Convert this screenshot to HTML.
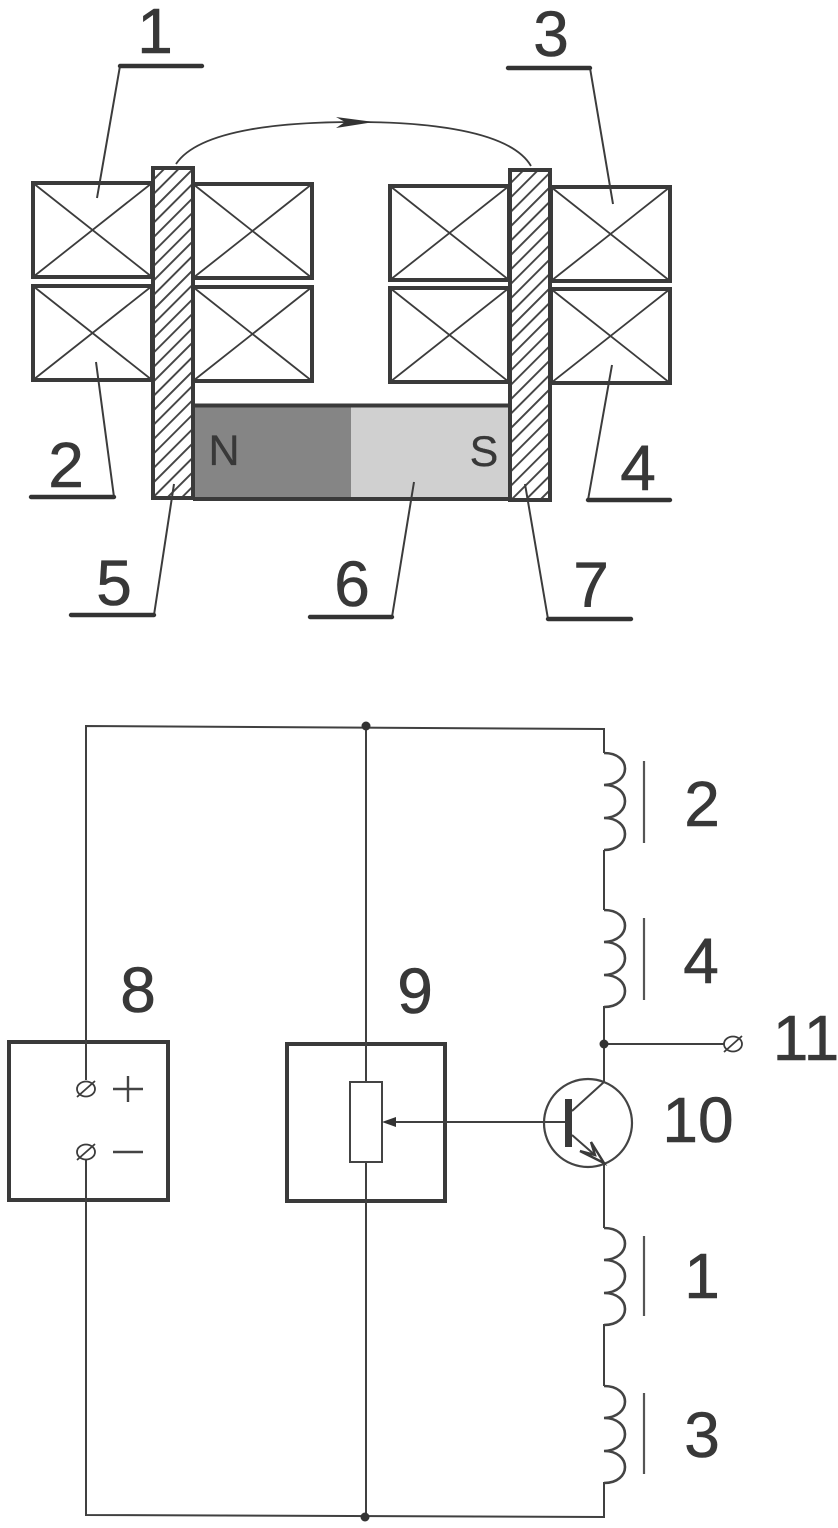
<!DOCTYPE html>
<html><head><meta charset="utf-8"><style>
html,body{margin:0;padding:0;background:#fff}
svg{display:block}
text{font-family:"Liberation Sans",sans-serif;fill:#383838;stroke:#383838;stroke-width:.6;font-size:64px;text-anchor:middle}
.t{fill:none;stroke:#3c3c3c;stroke-width:1.8}
.k{fill:#fff;stroke:#3a3a3a;stroke-width:4}
.u{stroke:#333;stroke-width:4.4;stroke-linecap:round}
.w{fill:none;stroke:#404040;stroke-width:2}
</style></head><body>
<svg width="838" height="1528" viewBox="0 0 838 1528" xmlns="http://www.w3.org/2000/svg">
<defs>
<pattern id="h" width="10.2" height="10.2" patternUnits="userSpaceOnUse" patternTransform="rotate(45)">
<rect width="10.2" height="10.2" fill="#fff"/><rect width="1.9" height="10.2" fill="#444"/>
</pattern>
<g id="c"><path d="M0,0 C28,0 28,31 0,32 C28,32 28,64 0,65 C28,65 28,97 0,97" fill="none" stroke="#444" stroke-width="2.600"/></g>
<g id="tm"><ellipse cx="0" cy="0" rx="9" ry="7.500" class="t"/><line x1="-9" y1="8" x2="9" y2="-8" class="t"/></g>
</defs>
<rect width="838" height="1528" fill="#fff"/>

<!-- coils windings top -->
<g class="k">
<rect x="33" y="183" width="119" height="94"/><rect x="33" y="286" width="119" height="94"/>
<rect x="193" y="184" width="119" height="94"/><rect x="193" y="287" width="119" height="94"/>
<rect x="390" y="186" width="119" height="94"/><rect x="390" y="288" width="119" height="94"/>
<rect x="551" y="187" width="119" height="94"/><rect x="551" y="289" width="119" height="94"/>
</g>
<g class="t">
<path d="M33,183L152,277M152,183L33,277M33,286L152,380M152,286L33,380"/>
<path d="M193,184L312,278M312,184L193,278M193,287L312,381M312,287L193,381"/>
<path d="M390,186L509,280M509,186L390,280M390,288L509,382M509,288L390,382"/>
<path d="M551,187L670,281M670,187L551,281M551,289L670,383M670,289L551,383"/>
</g>
<!-- magnet -->
<rect x="193" y="405" width="158" height="94" fill="#858585"/>
<rect x="351" y="405" width="159" height="94" fill="#d0d0d0"/>
<path d="M193,405.500L510,405.500M193,499L510,499" stroke="#3a3a3a" stroke-width="4"/>
<!-- cores -->
<rect x="153" y="168" width="40" height="330" fill="url(#h)" stroke="#3a3a3a" stroke-width="4"/>
<rect x="510" y="170" width="40" height="330" fill="url(#h)" stroke="#3a3a3a" stroke-width="4"/>
<text x="224" y="465" style="font-size:43px;stroke-width:.3">N</text>
<text x="484" y="466" style="font-size:43px;stroke-width:.3">S</text>
<!-- flux arc -->
<path class="t" d="M176,164 C200,128 290,122 355,122 C425,122 510,130 531,166"/>
<path d="M336,117 L374,122 L336,128 L345,122 Z" fill="#333"/>
<!-- leaders -->
<g class="t" style="stroke-width:2">
<path d="M120,66L97,198M590,68L613,204M114,497L96,362M588,500L612,365M154,615L174,484M392,617L414,482M548,619L525,484"/>
</g>
<g class="u">
<path d="M120,66H202M508,68H590M31,497H114M588,500H670M71,615H154M310,617H392M548,619H631"/>
</g>
<text x="155" y="53">1</text><text x="551" y="56">3</text>
<text x="66" y="487">2</text><text x="638" y="490">4</text>
<text x="114" y="605">5</text><text x="352" y="606">6</text><text x="591" y="607">7</text>

<!-- circuit boxes -->
<rect x="9" y="1042" width="159" height="158" fill="none" stroke="#3a3a3a" stroke-width="4"/>
<rect x="287" y="1044" width="158" height="157" fill="none" stroke="#3a3a3a" stroke-width="4"/>
<!-- wires -->
<g class="w">
<path d="M86,1080V726L604,729V753M604,850V910M604,1006V1082M604,1163V1228M604,1324V1386M604,1482V1517L86,1515V1160"/>
<path d="M366,726V1082M366,1162V1517"/>
<path d="M604,1044H724"/>
<path d="M395,1122H565"/>
</g>
<rect x="350" y="1082" width="32" height="80" fill="#fff" stroke="#444" stroke-width="2"/>
<path d="M382,1122L396,1117V1127Z" fill="#333"/>
<circle cx="366" cy="726" r="4.500" fill="#333"/>
<circle cx="365" cy="1517" r="4.500" fill="#333"/>
<circle cx="604" cy="1044" r="4.500" fill="#333"/>
<!-- terminals -->
<use href="#tm" x="86" y="1089"/><use href="#tm" x="86" y="1152"/><use href="#tm" x="733" y="1044"/>
<path d="M113,1089H143M128,1076V1102M113,1152H143" stroke="#444" stroke-width="2.400" fill="none"/>
<!-- transistor -->
<circle cx="588" cy="1123" r="44" fill="none" stroke="#444" stroke-width="2.200"/>
<rect x="565" y="1099" width="7" height="48" fill="#3a3a3a"/>
<path class="w" d="M572,1111L604,1082M572,1135L604,1163"/>
<path d="M580,1151L604,1163L591,1142L595,1155Z" fill="#fff" stroke="#3a3a3a" stroke-width="2.400"/>
<!-- inductors -->
<use href="#c" x="604" y="753"/><use href="#c" x="604" y="910"/><use href="#c" x="604" y="1228"/><use href="#c" x="604" y="1386"/>
<path d="M644,761V843M644,918V1000M644,1236V1316M644,1393V1474" stroke="#555" stroke-width="2.200" fill="none"/>
<!-- labels -->
<text x="138" y="1012">8</text><text x="415" y="1013">9</text>
<text x="702" y="826">2</text><text x="701" y="983">4</text>
<text x="702" y="1298">1</text><text x="702" y="1457">3</text>
<text x="698" y="1142">10</text><text x="806" y="1060">11</text>
</svg>
</body></html>
